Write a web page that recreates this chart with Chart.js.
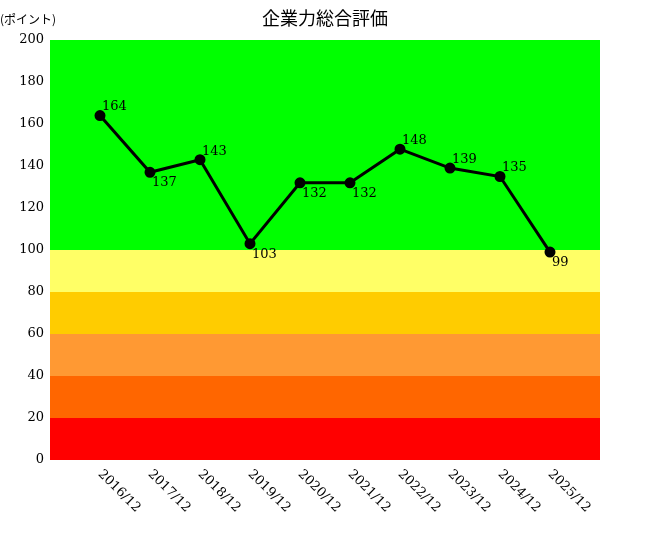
<!DOCTYPE html>
<html>
<head>
<meta charset="utf-8">
<script src="https://cdn.jsdelivr.net/npm/chart.js@4/dist/chart.umd.min.js"></script>
<style>
  body { margin: 0; background: #fff; }
  #wrap { width: 650px; height: 540px; }
</style>
</head>
<body>
<div id="wrap"><canvas id="chart"></canvas></div>
<script>
const labels = ["2016/12", "2017/12", "2018/12", "2019/12", "2020/12", "2021/12", "2022/12", "2023/12", "2024/12", "2025/12"];
const scores = [164, 137, 143, 103, 132, 132, 148, 139, 135, 99];
const labelSide = ["above", "below", "above", "below", "below", "below", "above", "above", "above", "below"];
const yTicks = [0, 20, 40, 60, 80, 100, 120, 140, 160, 180, 200];
const bandEdges = [0, 20, 40, 60, 80, 100, 200];
const bandColors = ["#ff0000", "#ff6600", "#ff9933", "#ffcc00", "#ffff66", "#00ff00"];

const serif = "'DejaVu Serif', 'Liberation Serif', serif";

const decorPlugin = {
    id: "decor",
    beforeDraw(chart) {
        const ctx = chart.ctx;
        const x = chart.scales.x, y = chart.scales.y;
        const area = chart.chartArea;
        for (let i = 0; i < bandColors.length; i++) {
            const top = y.getPixelForValue(bandEdges[i + 1]);
            const bottom = y.getPixelForValue(bandEdges[i]);
            ctx.fillStyle = bandColors[i];
            ctx.fillRect(area.left, top, area.right - area.left, bottom - top);
        }
        ctx.save();
        ctx.fillStyle = "#000";
        ctx.font = "13px " + serif;
        ctx.textAlign = "right";
        ctx.textBaseline = "middle";
        yTicks.forEach(v => ctx.fillText(String(v), area.left - 6, y.getPixelForValue(v)));
        ctx.textAlign = "left";
        labels.forEach((l, i) => {
            ctx.save();
            ctx.translate(x.getPixelForValue(i + 1), area.bottom + 12);
            ctx.rotate(Math.PI / 4);
            ctx.fillText(l, 0, 0);
            ctx.restore();
        });
        ctx.font = "18px 'Noto Sans CJK JP', sans-serif";
        ctx.textAlign = "center";
        ctx.fillText("企業力総合評価", 325, 18);
        ctx.font = "12px 'Noto Sans CJK JP', sans-serif";
        ctx.textAlign = "left";
        ctx.fillText("(ポイント)", 0, 19);
        ctx.restore();
    },
    afterDatasetsDraw(chart) {
        const ctx = chart.ctx;
        const meta = chart.getDatasetMeta(0);
        ctx.save();
        ctx.fillStyle = "#000";
        ctx.font = "13px " + serif;
        ctx.textAlign = "left";
        meta.data.forEach((pt, i) => {
            const above = labelSide[i] === "above";
            ctx.textBaseline = above ? "bottom" : "top";
            ctx.fillText(String(scores[i]), pt.x + 2, pt.y + (above ? -2 : 4));
        });
        ctx.restore();
    }
};

new Chart(document.getElementById("chart").getContext("2d"), {
    type: "line",
    data: {
        datasets: [{
            data: scores.map((v, i) => ({ x: i + 1, y: v })),
            borderColor: "#000",
            backgroundColor: "#000",
            borderWidth: 3,
            pointRadius: 4,
            tension: 0,
            fill: false
        }]
    },
    options: {
        responsive: true,
        maintainAspectRatio: false,
        animation: false,
        layout: { padding: { left: 50, top: 40, right: 50, bottom: 80 } },
        plugins: { legend: { display: false }, tooltip: { enabled: false } },
        scales: {
            x: { type: "linear", min: 0, max: 11, display: false },
            y: { min: 0, max: 200, display: false }
        }
    },
    plugins: [decorPlugin]
});
</script>
</body>
</html>
